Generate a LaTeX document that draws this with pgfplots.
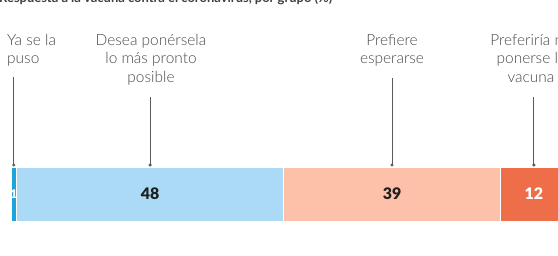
\documentclass[border=0pt]{standalone}
\usepackage{pgfplots}
\pgfplotsset{compat=1.18}
\usepackage{fontspec}
\setmainfont{Lato Light}[BoldFont=Lato Black]
\newfontfamily\numfont{Lato Black}
\newfontfamily\titfont{Lato}
\definecolor{cA}{HTML}{1FA4D9}
\definecolor{cB}{HTML}{ABDAF6}
\definecolor{cC}{HTML}{FDC1A9}
\definecolor{cD}{HTML}{EE6E49}
\definecolor{txt}{HTML}{4A4A4A}
\definecolor{ln}{HTML}{5A5A5A}
\begin{document}
\begin{tikzpicture}
\path[use as bounding box, fill=white] (0,0) rectangle (558bp,256bp);
\begin{axis}[
  at={(0,0)}, anchor=south west,
  width=558bp, height=256bp, scale only axis,
  xmin=-1.98, xmax=98.34, ymin=0, ymax=256,
  hide axis, clip=true,
  xbar stacked, bar width=54bp,
]
\addplot[fill=cA, draw=white, line width=0.6bp] coordinates {(1,62)};
\addplot[fill=cB, draw=white, line width=0.6bp] coordinates {(48,62)};
\addplot[fill=cC, draw=white, line width=0.6bp] coordinates {(39,62)};
\addplot[fill=cD, draw=white, line width=0.6bp] coordinates {(12,62)};
% segment centres
\coordinate (v1) at (axis cs:0.5,62);
\coordinate (v2) at (axis cs:25,62);
\coordinate (v3) at (axis cs:68.5,62);
\coordinate (v4) at (axis cs:94,62);
% leader lines
\draw[ln, line width=0.8bp] (axis cs:0.5,179) -- (axis cs:0.5,91);
\fill[ln] (axis cs:0.5,91) circle (1.7bp);
\draw[ln, line width=0.8bp] (axis cs:25,159) -- (axis cs:25,91);
\fill[ln] (axis cs:25,91) circle (1.7bp);
\draw[ln, line width=0.8bp] (axis cs:68.5,178) -- (axis cs:68.5,91);
\fill[ln] (axis cs:68.5,91) circle (1.7bp);
\draw[ln, line width=0.8bp] (axis cs:94,159) -- (axis cs:94,91);
\fill[ln] (axis cs:94,91) circle (1.7bp);
\end{axis}
% values
\node[text=white, font=\numfont\fontsize{12}{12}\selectfont, inner sep=0pt] at (v1) {1};
\node[text=black!88, font=\numfont\fontsize{16}{16}\selectfont, inner sep=0pt] at (v2) {48};
\node[text=black!88, font=\numfont\fontsize{16}{16}\selectfont, inner sep=0pt] at (v3) {39};
\node[text=white, font=\numfont\fontsize{16}{16}\selectfont, inner sep=0pt] at (v4) {12};
% labels
\begin{scope}[every node/.style={inner sep=0pt, text=txt, font=\fontsize{15.5}{18.5}\selectfont}]
\node[anchor=north west, align=left] at (7bp,222bp) {Ya se la\\puso};
\node[anchor=north, align=center] at (151bp,222bp) {Desea ponérsela\\lo más pronto\\posible};
\node[anchor=north, align=center] at (392bp,222bp) {Prefiere\\esperarse};
\node[anchor=north, align=center] at (531bp,222bp) {Preferiría no\\ponerse la\\vacuna};
\node[anchor=base west, text=black!75, font=\titfont\bfseries\fontsize{13}{13}\selectfont] at (-1bp,253bp) {Respuesta a la vacuna contra el coronavirus, por grupo (\%)};
\end{scope}
\end{tikzpicture}
\end{document}
